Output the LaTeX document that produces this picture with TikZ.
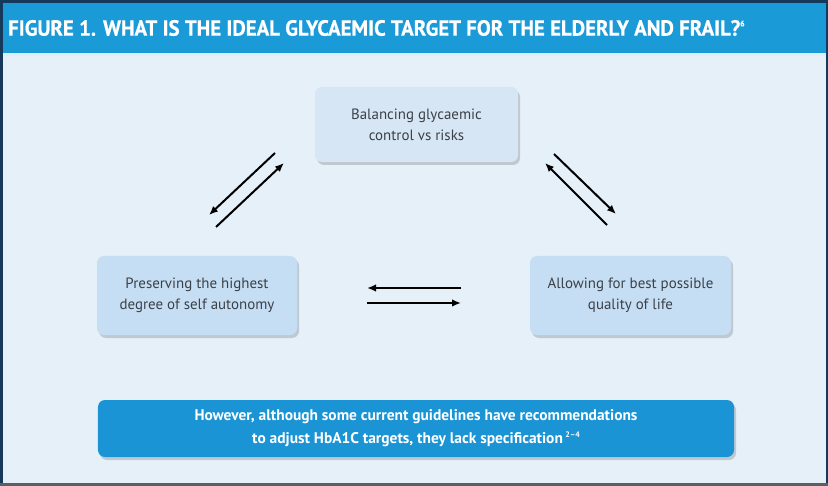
\documentclass[tikz,border=0pt]{standalone}
\usepackage{fontspec}
\setmainfont{PT Sans}
\newfontfamily\titlefont{PT Sans}[FakeStretch=0.95, FakeBold=0.6]
\usetikzlibrary{arrows.meta, shadows}
\definecolor{framenavy}{HTML}{14395B}
\definecolor{framegray}{HTML}{5A5F66}
\definecolor{titleblue}{HTML}{1B9AD8}
\definecolor{bodyblue}{HTML}{E6F0F9}
\definecolor{topfill}{HTML}{D7E6F4}
\definecolor{sidefill}{HTML}{C6DEF3}
\definecolor{notefill}{HTML}{1A94D5}
\definecolor{boxtext}{HTML}{3B4047}
\newcommand{\refmark}[1]{\raisebox{0.85ex}{\fontsize{8}{8}\selectfont #1}}

\tikzset{
    statebox/.style={rounded corners=7bp, align=center, text=boxtext,
        font=\fontsize{15}{21}\selectfont,
        drop shadow={shadow xshift=2bp, shadow yshift=-3bp, fill=black, opacity=0.16}},
    flow/.style={line width=2bp, black, -{Latex[length=9bp,width=7.5bp]}}
}

\begin{document}
\begin{tikzpicture}[x=1bp, y=-1bp]
    \useasboundingbox (0,0) rectangle (828,486);
    % frame and title bar
    \fill[framenavy] (0,0) rectangle (828,486);
    \fill[framegray] (0,483) rectangle (828,486);
    \fill[bodyblue] (3,3) rectangle (826,483);
    \fill[titleblue] (3,3) rectangle (826,53);
    \fill[white!85!titleblue] (3,53) rectangle (826,56);
    \node[anchor=west, inner sep=0pt, text=white, font=\titlefont\bfseries\fontsize{22}{26}\selectfont] (title) at (8,28)
        {FIGURE 1. WHAT IS THE IDEAL GLYCAEMIC TARGET FOR THE ELDERLY AND FRAIL?\refmark{6}};
    % the three aims
    \node[statebox, fill=topfill, minimum width=203bp, minimum height=75bp] (balance) at (416.5,124.5)
        {Balancing glycaemic\\control vs risks};
    \node[statebox, fill=sidefill, minimum width=200bp, minimum height=79bp] (autonomy) at (197,295.5)
        {Preserving the highest\\degree of self autonomy};
    \node[statebox, fill=sidefill, minimum width=201bp, minimum height=79bp] (quality) at (630.5,295.5)
        {Allowing for best possible\\quality of life};
    % note
    \node[statebox, fill=notefill, text=white, minimum width=636bp, minimum height=57bp,
        font=\bfseries\fontsize{15.5}{23}\selectfont] (note) at (416,428.5)
        {However, although some current guidelines have recommendations\\to adjust HbA1C targets, they lack specification\,\refmark{2--4}};
    % arrow ends
    \coordinate (bl1) at (275,153);  \coordinate (bl2) at (209,215);
    \coordinate (lb1) at (216,227);  \coordinate (lb2) at (284,163);
    \coordinate (bq1) at (554,154);  \coordinate (bq2) at (616,214);
    \coordinate (qb1) at (607,225);  \coordinate (qb2) at (545,163);
    \coordinate (qa1) at (461,288);  \coordinate (qa2) at (367,288);
    \coordinate (aq1) at (367,303);  \coordinate (aq2) at (461,303);
    \draw[flow] (bl1) -- (bl2);
    \draw[flow] (lb1) -- (lb2);
    \draw[flow] (bq1) -- (bq2);
    \draw[flow] (qb1) -- (qb2);
    \draw[flow] (qa1) -- (qa2);
    \draw[flow] (aq1) -- (aq2);
\end{tikzpicture}
\end{document}
